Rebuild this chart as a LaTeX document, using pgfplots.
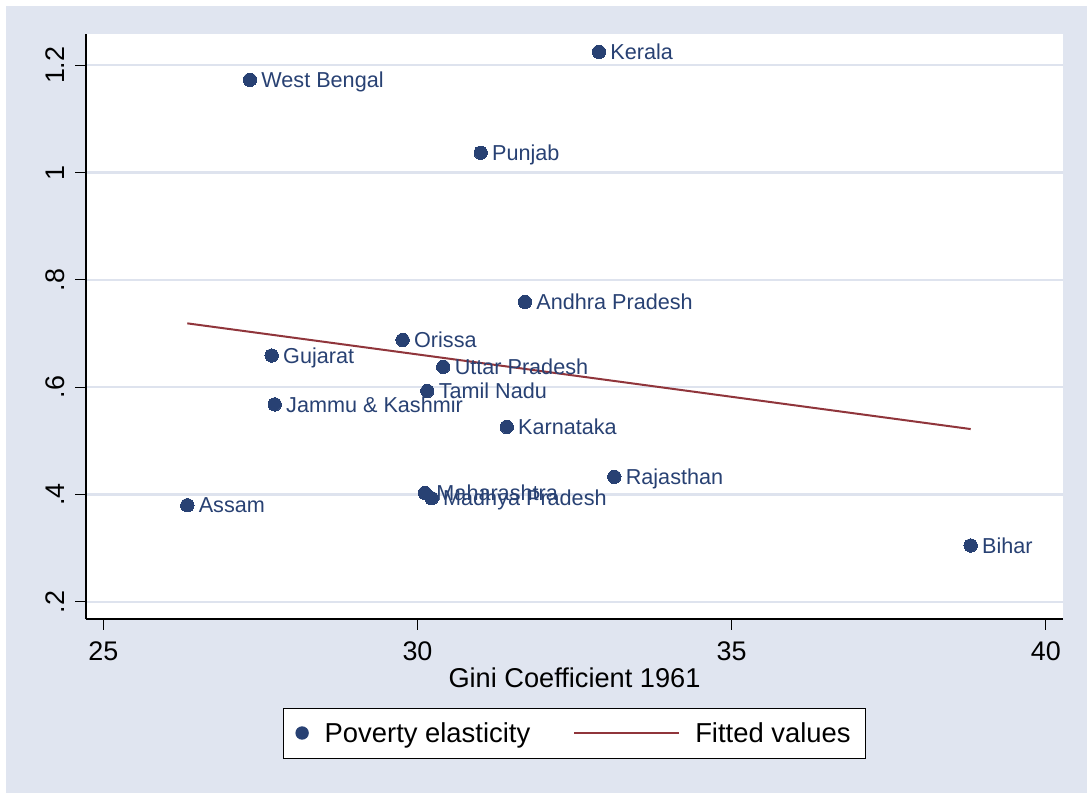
\documentclass[border=0pt]{standalone}
\usepackage{pgfplots}
\pgfplotsset{compat=1.18}
\usepackage{fontspec}
\setmainfont{Liberation Sans}
\definecolor{bgc}{RGB}{224,229,240}
\definecolor{gridc}{RGB}{222,227,238}
\definecolor{navyc}{RGB}{40,65,115}
\definecolor{maroonc}{RGB}{144,53,59}
\begin{document}
\begin{tikzpicture}[x=1bp,y=1bp]
\fill[white] (0bp,0bp) rectangle (1087bp,793bp);
\fill[bgc] (6bp,0bp) rectangle (1087bp,787bp);
\begin{axis}[
  at={(86bp,174bp)}, anchor=south west,
  scale only axis, width=977bp, height=585bp,
  xmin=24.725, xmax=40.272, ymin=0.168, ymax=1.2583,
  axis background/.style={fill=white},
  axis x line=bottom, axis y line=left,
  axis line style={-, black, line width=1.2bp},
  tick align=outside, major tick length=11bp,
  tick style={black, line width=1.1bp},
  xtick={25,30,35,40}, xticklabels={25,30,35,40},
  ytick={0.2,0.4,0.6,0.8,1,1.2}, yticklabels={.2,.4,.6,.8,1,1.2},
  minor tick num=0,
  /pgf/number format/assume math mode=true,
  ymajorgrids, major grid style={gridc, line width=2.3bp},
  ticklabel style={font=\fontsize{27}{32}\selectfont, text=black, inner sep=0pt},
  xticklabel style={anchor=north},
  xticklabel shift=12bp,
  yticklabel style={rotate=90, anchor=south},
  yticklabel shift=10bp,
  xlabel={Gini Coefficient 1961},
  xlabel style={at={(axis description cs:0.5,0)}, anchor=base, yshift=-68bp, inner sep=0pt, font=\fontsize{27.3}{32}\selectfont},
  legend columns=2,
  legend style={at={(axis description cs:0.5,0)}, anchor=center, yshift=-114bp,
    draw=black, line width=1bp, fill=white, inner xsep=0pt, inner ysep=12bp,
    nodes={inner sep=0pt, text height=22.9bp, text depth=3.1bp},
    font=\fontsize{27.5}{33}\selectfont},
  clip=false,
]
\addplot[only marks, mark=*, mark size=6.7bp,
  mark options={fill=navyc, draw=navyc, line width=0pt},
  nodes near coords, point meta=explicit symbolic,
  every node near coord/.append style={anchor=base west, inner sep=0pt, xshift=11.5bp, yshift=-7.7bp, text=navyc, font=\fontsize{21.7}{25}\selectfont},
  legend image code/.code={\path[draw=none,fill=none] (0bp,-1bp) rectangle (41.3bp,1bp); \fill[navyc,draw=none] (18.7bp,0bp) circle (6.7bp);}
] coordinates {
  (32.888,1.225) [Kerala]
  (27.334,1.173) [West Bengal]
  (31.006,1.037) [Punjab]
  (31.710,0.759) [Andhra Pradesh]
  (29.764,0.688) [Orissa]
  (27.680,0.659) [Gujarat]
  (30.410,0.638) [Uttar Pradesh]
  (30.156,0.593) [Tamil Nadu]
  (27.728,0.568) [Jammu \& Kashmir]
  (31.420,0.526) [Karnataka]
  (33.132,0.433) [Rajasthan]
  (30.119,0.403) [Maharashtra]
  (30.226,0.393) [Madhya Pradesh]
  (26.337,0.380) [Assam]
  (38.803,0.305) [Bihar]
};
\addlegendentry{Poverty elasticity}
\addplot[maroonc, line width=2bp, no marks,
  legend image code/.code={\path[draw=none,fill=none] (0bp,-1bp) rectangle (165bp,1bp); \draw[maroonc, line width=2bp] (44bp,0bp) -- (149bp,0bp);}
] coordinates {(26.337,0.719) (38.803,0.522)};
\addlegendentry{Fitted values\hspace*{15bp}}
\end{axis}
\end{tikzpicture}
\end{document}
